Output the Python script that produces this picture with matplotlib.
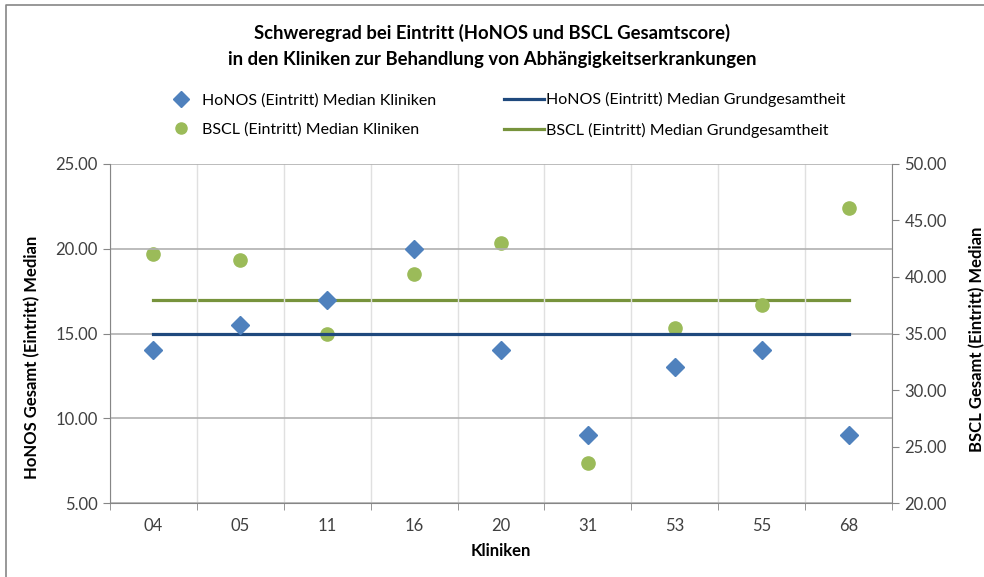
import matplotlib
matplotlib.use("Agg")
from matplotlib import pyplot as plt
from matplotlib.lines import Line2D

plt.rcParams['font.family'] = ['Lato', 'DejaVu Sans']

kliniken = ['04', '05', '11', '16', '20', '31', '53', '55', '68']
honos_median = [14.0, 15.5, 17.0, 20.0, 14.0, 9.0, 13.0, 14.0, 9.0]
bscl_median = [42.0, 41.5, 35.0, 40.3, 43.0, 23.5, 35.5, 37.5, 46.1]
honos_grund = [15.0, 15.0, 15.0, 15.0, 15.0, 15.0, 15.0, 15.0, 15.0]
bscl_grund = [38.0, 38.0, 38.0, 38.0, 38.0, 38.0, 38.0, 38.0, 38.0]

left_ticks = [5, 10, 15, 20, 25]
right_ticks = [20, 25, 30, 35, 40, 45, 50]

c_honos = '#4F81BD'
c_bscl = '#9BBB59'
c_honos_line = '#1F497D'
c_bscl_line = '#77933C'
c_text = '#404040'

fig = plt.figure(figsize=(9.84, 5.77), dpi=100)
ax = fig.add_axes([0.1118, 0.1282, 0.7947, 0.5876])
ax2 = ax.twinx()

x = list(range(len(kliniken)))

ax.plot(x, honos_grund, color=c_honos_line, lw=2.3, zorder=3)
ax2.plot(x, bscl_grund, color=c_bscl_line, lw=2.3, zorder=3)
ax.plot(x, honos_median, ls='none', marker='D', ms=9.5, color=c_honos, zorder=4)
ax2.plot(x, bscl_median, ls='none', marker='o', ms=9.5, color=c_bscl, zorder=4)

ax.set_zorder(ax2.get_zorder() + 1)
ax.patch.set_visible(False)

ax.set_xlim(-0.5, len(kliniken) - 0.5)
ax.set_ylim(5, 25)
ax2.set_ylim(20, 50)
ax.set_yticks(left_ticks)
ax.set_yticklabels([f'{v:.2f}' for v in left_ticks])
ax2.set_yticks(right_ticks)
ax2.set_yticklabels([f'{v:.2f}' for v in right_ticks])

ax.set_xticks(x)
ax.set_xticklabels(kliniken)
ax.set_xticks([i + 0.5 for i in range(-1, len(kliniken))], minor=True)
ax.tick_params(axis='x', which='major', length=0, pad=11, labelsize=12, colors=c_text)
ax.tick_params(axis='x', which='minor', length=5, color='#868686', direction='out')
ax.tick_params(axis='y', length=5, color='#868686', labelsize=12, labelcolor=c_text, pad=4)
ax2.tick_params(axis='y', length=5, color='#868686', labelsize=12, labelcolor=c_text, pad=4)

ax.grid(True, axis='y', color='#B0B0B0', lw=1.2)
ax.grid(True, axis='x', which='minor', color='#E0E0E0', lw=1)
ax.set_axisbelow(True)

for a in (ax, ax2):
    a.spines['top'].set_visible(False)
    for s in ('left', 'right', 'bottom'):
        a.spines[s].set_color('#868686')
ax.spines['right'].set_visible(False)
ax2.spines['left'].set_visible(False)
ax2.spines['bottom'].set_visible(False)

ax.set_ylabel('HoNOS Gesamt (Eintritt) Median', fontweight='bold', fontsize=12)
ax.yaxis.set_label_coords(-0.0895, 0.43)
ax2.set_ylabel('BSCL Gesamt (Eintritt) Median', fontweight='bold', fontsize=12)
ax2.yaxis.set_label_coords(1.098, 0.484)
ax.set_xlabel('Kliniken', fontweight='bold', fontsize=12, labelpad=6)

fig.text(0.5, 1 - 33 / 577, 'Schweregrad bei Eintritt (HoNOS und BSCL Gesamtscore)',
         ha='center', va='center', fontsize=13.3, fontweight='bold')
fig.text(0.5, 1 - 59 / 577, 'in den Kliniken zur Behandlung von Abhängigkeitserkrankungen',
         ha='center', va='center', fontsize=13.3, fontweight='bold')

handles = [
    Line2D([], [], ls='none', marker='D', ms=8, color=c_honos),
    Line2D([], [], ls='none', marker='o', ms=8, color=c_bscl),
    Line2D([], [], color=c_honos_line, lw=2.3),
    Line2D([], [], color=c_bscl_line, lw=2.3),
]
labels = [
    'HoNOS (Eintritt) Median Kliniken',
    'BSCL (Eintritt) Median Kliniken',
    'HoNOS (Eintritt) Median Grundgesamtheit',
    'BSCL (Eintritt) Median Grundgesamtheit',
]
fig.legend(handles, labels, ncol=2, loc='center', bbox_to_anchor=(0.511, 1 - 115 / 577),
           frameon=False, fontsize=11.5, handlelength=2.5, handletextpad=0.1,
           columnspacing=4.25, labelspacing=0.95)

# Rahmen (nur links und oben sichtbar)
fig.add_artist(Line2D([6 / 984, 6 / 984, 1.0], [0.0, 1 - 5 / 577, 1 - 5 / 577],
                      transform=fig.transFigure, color='#868686', lw=1.2))

fig.savefig('out.png', dpi=100)
